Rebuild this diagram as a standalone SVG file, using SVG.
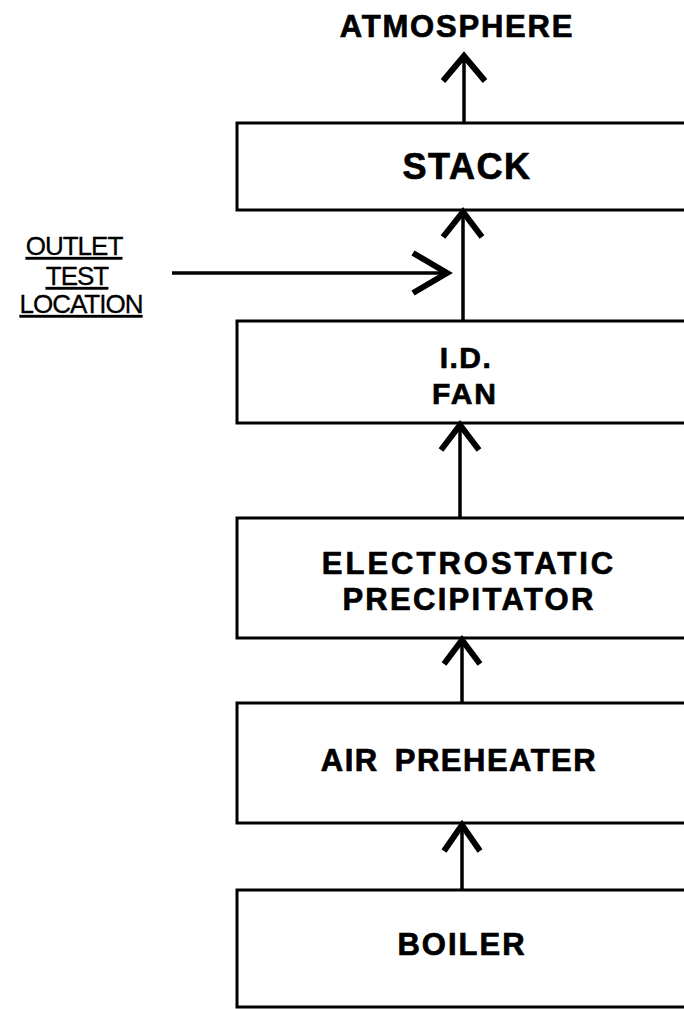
<svg xmlns="http://www.w3.org/2000/svg" width="684" height="1009" viewBox="0 0 684 1009">
<style>
.box{fill:#fff;stroke:#000;stroke-width:3}
.t{font-family:"Liberation Sans",Arial,sans-serif;font-weight:bold;fill:#000;stroke:#000;stroke-width:0.7;text-anchor:middle}
.lbl{font-family:"Liberation Sans",Arial,sans-serif;font-size:26px;letter-spacing:-1px;fill:#000;stroke:#000;stroke-width:0.3;text-anchor:middle;text-decoration:underline}
.shaft{stroke:#000;stroke-width:3.5;fill:none}
.head{stroke:#000;stroke-width:6;fill:none;stroke-linecap:butt;stroke-linejoin:miter}
</style>
<rect width="684" height="1009" fill="#fff"/>
<g id="atmosphere"><text class="t" x="457" y="37" font-size="31" letter-spacing="1.8">ATMOSPHERE</text></g>
<g id="stack"><rect class="box" x="237" y="123" width="460" height="87"/><text class="t" x="467" y="179" font-size="36" letter-spacing="1.5">STACK</text></g>
<g id="idfan"><rect class="box" x="237" y="321" width="460" height="102"/><text class="t" x="466" y="368" font-size="30" letter-spacing="1.5">I.D.</text><text class="t" x="465" y="404" font-size="30" letter-spacing="2">FAN</text></g>
<g id="esp"><rect class="box" x="237" y="518" width="460" height="120"/><text class="t" x="469" y="574" font-size="31" letter-spacing="3">ELECTROSTATIC</text><text class="t" x="469" y="610" font-size="31" letter-spacing="2.3">PRECIPITATOR</text></g>
<g id="airpreheater"><rect class="box" x="237" y="703" width="460" height="120"/><text class="t" x="459" y="771" font-size="31" letter-spacing="1.5" word-spacing="6">AIR PREHEATER</text></g>
<g id="boiler"><rect class="box" x="237" y="890" width="460" height="117"/><text class="t" x="462" y="955" font-size="31" letter-spacing="2">BOILER</text></g>
<g id="outlet-label"><text class="lbl" x="74" y="255">OUTLET </text><text class="lbl" x="77" y="285">TEST</text><text class="lbl" x="81" y="313">LOCATION</text></g>
<g id="connectors">
<line class="shaft" x1="464" y1="123" x2="464" y2="58"/><polyline class="head" points="443,81 464,56 485,81"/>
<line class="shaft" x1="463" y1="321" x2="463" y2="214"/><polyline class="head" points="443,237 463,212 482,237"/>
<line class="shaft" x1="460" y1="518" x2="460" y2="427"/><polyline class="head" points="441,450 460,425 479,450"/>
<line class="shaft" x1="462" y1="703" x2="462" y2="642"/><polyline class="head" points="444,664 462,640 480,664"/>
<line class="shaft" x1="462" y1="890" x2="462" y2="827"/><polyline class="head" points="444,851 462,825 480,851"/>
<line class="shaft" x1="172" y1="273" x2="445" y2="273" stroke-width="4.5"/><polyline class="head" points="413,253 447,273 413,293"/>
</g>
</svg>
